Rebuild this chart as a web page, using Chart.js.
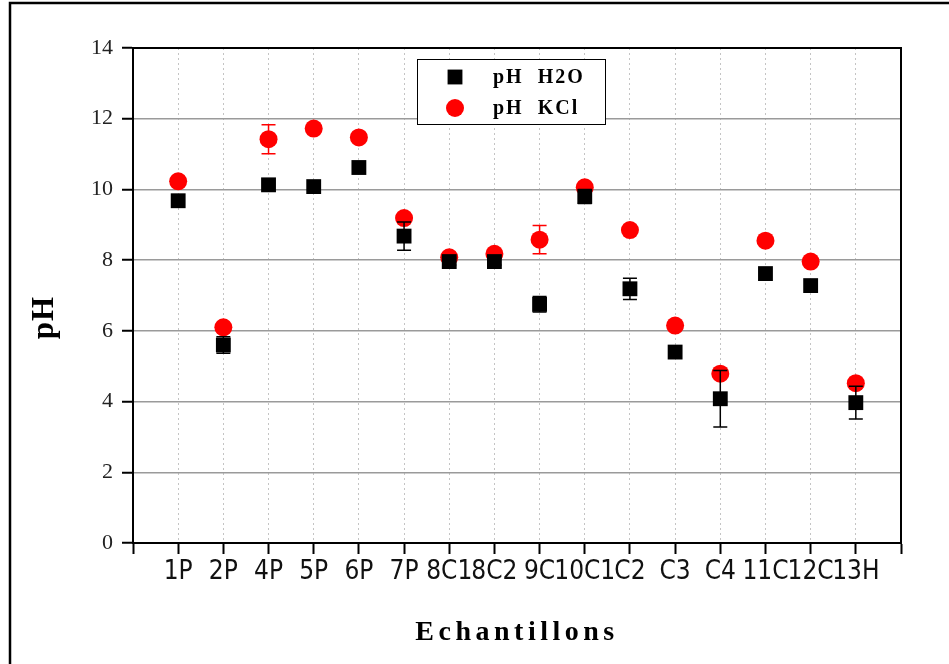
<!DOCTYPE html>
<html>
<head>
<meta charset="utf-8">
<script src="https://cdn.jsdelivr.net/npm/chart.js@4/dist/chart.umd.min.js"></script>
<style>
  body { margin: 0; background: #fff; }
  canvas { display: block; }
</style>
</head>
<body>
<canvas id="phChart" width="949" height="664"></canvas>
<script>
// --- Daten ---
const sampleLabels = ['1P', '2P', '4P', '5P', '6P', '7P', '8C1', '8C2', '9C', '10C1', 'C2', 'C3', 'C4', '11C', '12C', '13H'];
const phH2O = [9.68, 5.6, 10.13, 10.08, 10.62, 8.68, 7.96, 7.96, 6.75, 9.8, 7.19, 5.4, 4.08, 7.62, 7.28, 3.97];
const phKCl = [10.23, 6.1, 11.42, 11.72, 11.47, 9.19, 8.08, 8.18, 8.58, 10.06, 8.85, 6.15, 4.79, 8.55, 7.96, 4.52];
const errH2O = [0, 0.23, 0, 0, 0, 0.4, 0.1, 0.1, 0.22, 0.2, 0.3, 0, 0.8, 0, 0, 0.46];
const errKCl = [0, 0, 0.41, 0, 0, 0, 0, 0, 0.4, 0, 0, 0, 0, 0, 0, 0];
const yTicks = [0, 2, 4, 6, 8, 10, 12, 14];

const toPoints = (vals) => vals.map((v, i) => ({ x: i + 1, y: v }));

// Skala mit gesperrtem / verschobenem Titel
class SpacedScale extends Chart.LinearScale {
    drawTitle() {
        const t = this.options.title;
        this.ctx.save();
        this.ctx.letterSpacing = t.spacing || '0px';
        this.ctx.translate(0, t.shiftY || 0);
        super.drawTitle();
        this.ctx.restore();
    }
}
SpacedScale.id = 'spaced';
SpacedScale.defaults = Chart.LinearScale.defaults;
Chart.register(SpacedScale);

// Fehlerbalken über die Skalen zeichnen
const errorBars = {
    id: 'errorBars',
    afterDatasetsDraw(chart) {
        const { ctx, scales: { x, y } } = chart;
        chart.data.datasets.forEach((ds) => {
            ctx.save();
            ctx.strokeStyle = ds.errColor;
            ctx.lineWidth = 1.5;
            ds.data.forEach((p, i) => {
                const e = ds.errors[i];
                if (!e) return;
                const px = x.getPixelForValue(p.x);
                const top = y.getPixelForValue(p.y + e);
                const bot = y.getPixelForValue(p.y - e);
                ctx.beginPath();
                ctx.moveTo(px, top); ctx.lineTo(px, bot);
                ctx.moveTo(px - 7, top); ctx.lineTo(px + 7, top);
                ctx.moveTo(px - 7, bot); ctx.lineTo(px + 7, bot);
                ctx.stroke();
            });
            ctx.restore();
        });
    }
};

// Rahmen, Legende, Bildrand
const frame = {
    id: 'frame',
    afterDraw(chart) {
        const { ctx, chartArea: a } = chart;
        ctx.save();
        ctx.strokeStyle = '#000';
        ctx.lineWidth = 2;
        ctx.beginPath();
        ctx.moveTo(a.left, a.top); ctx.lineTo(a.right, a.top); ctx.lineTo(a.right, a.bottom);
        ctx.stroke();

        // Bildrand links/oben
        ctx.lineWidth = 2.5;
        ctx.beginPath();
        ctx.moveTo(10, 664); ctx.lineTo(10, 3); ctx.lineTo(949, 3);
        ctx.stroke();

        // Legende
        const lx = 417, ly = 59, lw = 188, lh = 65;
        ctx.fillStyle = '#fff';
        ctx.fillRect(lx, ly, lw, lh);
        ctx.lineWidth = 1;
        ctx.strokeRect(lx + 0.5, ly + 0.5, lw, lh);
        ctx.font = 'bold 20px "Liberation Serif", serif';
        ctx.letterSpacing = '2px';
        ctx.textBaseline = 'middle';
        chart.data.datasets.forEach((ds, i) => {
            const cy = ly + 18 + i * 31;
            ctx.fillStyle = ds.backgroundColor;
            ctx.strokeStyle = ds.backgroundColor;
            Chart.helpers.drawPoint(ctx, { pointStyle: ds.pointStyle, radius: ds.pointRadius, borderWidth: 0 }, 455, cy);
            ctx.fillStyle = '#000';
            ctx.fillText(ds.label, 493, cy + 1);
        });
        ctx.restore();
    }
};

new Chart(document.getElementById('phChart'), {
    type: 'scatter',
    data: {
        datasets: [
            { label: 'pH  H2O', data: toPoints(phH2O), errors: errH2O, errColor: '#000',
              pointStyle: 'rect', pointRadius: 10.5, backgroundColor: '#000', borderColor: '#000', borderWidth: 0 },
            { label: 'pH  KCl', data: toPoints(phKCl), errors: errKCl, errColor: '#ff0000',
              pointStyle: 'circle', pointRadius: 9, backgroundColor: '#ff0000', borderColor: '#ff0000', borderWidth: 0 }
        ]
    },
    options: {
        responsive: false,
        animation: false,
        layout: { padding: { top: 48, right: 48, left: 0, bottom: 0 } },
        plugins: { legend: { display: false }, tooltip: { enabled: false } },
        scales: {
            x: {
                type: 'spaced',
                min: 0, max: 17,
                afterFit: (s) => { s.height = 121; },
                afterBuildTicks: (s) => { s.ticks = sampleLabels.map((_, i) => ({ value: i + 1 })).concat([{ value: 0 }, { value: 17 }]); },
                ticks: {
                    autoSkip: false, maxRotation: 0, padding: 3, color: '#111',
                    font: { family: '"Liberation Sans Narrow", "DejaVu Sans Condensed", sans-serif', size: 26 },
                    callback: (v) => sampleLabels[v - 1] || ''
                },
                grid: { color: '#c4c4c4', lineWidth: 1, tickColor: '#000', tickLength: 11, tickWidth: 2, tickBorderDash: [] },
                border: { color: '#000', width: 2, dash: [2, 3] },
                title: { display: true, text: 'Echantillons', spacing: '4.5px', color: '#000',
                         font: { family: '"Liberation Serif", serif', size: 28, weight: 'bold' }, padding: { bottom: 14 } }
            },
            y: {
                type: 'spaced',
                min: 0, max: 14,
                afterFit: (s) => { s.width = 133; },
                afterBuildTicks: (s) => { s.ticks = yTicks.map((v) => ({ value: v })); },
                ticks: { padding: 9, color: '#222', font: { family: '"Liberation Serif", serif', size: 22 } },
                grid: { color: '#9a9a9a', lineWidth: 1.5, tickColor: '#000', tickLength: 11, tickWidth: 2 },
                border: { color: '#000', width: 2 },
                title: { display: true, text: 'pH', color: '#000', spacing: '1px', shiftY: 22,
                         font: { family: '"Liberation Serif", serif', size: 31, weight: 'bold' }, padding: { top: 26 } }
            }
        }
    },
    plugins: [errorBars, frame]
});
</script>
</body>
</html>
